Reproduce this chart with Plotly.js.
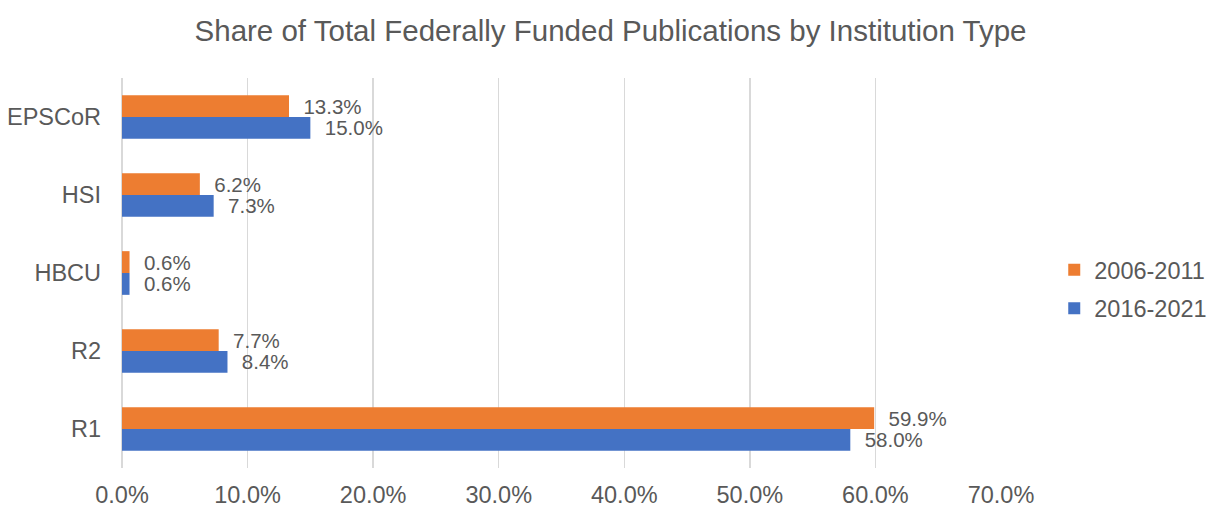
<!DOCTYPE html>
<html>
<head>
<meta charset="utf-8">
<script src="https://cdn.plot.ly/plotly-3.0.1.min.js"></script>
<style>html,body{margin:0;padding:0;background:#fff;}#chart{width:1209px;height:506px;}</style>
</head>
<body>
<div id="chart"></div>
<script>
const categories = ["R1", "R2", "HBCU", "HSI", "EPSCoR"];
const series2006 = [59.9, 7.7, 0.6, 6.2, 13.3];
const series2016 = [58.0, 8.4, 0.6, 7.3, 15.0];
const seriesNames = ["2006-2011", "2016-2021"];
const xTickValues = [0, 10, 20, 30, 40, 50, 60, 70];
const xTickLabels = xTickValues.map(v => v.toFixed(1) + '%');

const FONT = '"Liberation Sans", Arial, sans-serif';
const GREY = '#595959';

const traceBlue = {
  type: 'bar', orientation: 'h',
  name: seriesNames[1], y: categories, x: series2016,
  marker: {color: '#4472C4'},
  texttemplate: '\u00a0\u00a0%{x:.1f}%', textposition: 'outside',
  textfont: {family: FONT, size: 20.5, color: GREY},
  constraintext: 'none', cliponaxis: false,
  legendgroup: 'b', legendrank: 2, hoverinfo: 'skip'
};
const traceOrange = {
  type: 'bar', orientation: 'h',
  name: seriesNames[0], y: categories, x: series2006,
  marker: {color: '#ED7D31'},
  texttemplate: '\u00a0\u00a0%{x:.1f}%', textposition: 'outside',
  textfont: {family: FONT, size: 20.5, color: GREY},
  constraintext: 'none', cliponaxis: false,
  legendgroup: 'a', legendrank: 1, hoverinfo: 'skip'
};

const layout = {
  width: 1209, height: 506,
  paper_bgcolor: '#ffffff', plot_bgcolor: '#ffffff',
  font: {family: FONT, color: GREY, size: 23},
  title: {text: 'Share of Total Federally Funded Publications by Institution Type',
          font: {family: FONT, size: 29.5, color: GREY}, x: 0.505, xanchor: 'center', y: 0.94, yanchor: 'middle'},
  margin: {l: 122, r: 208, t: 78, b: 38},
  barmode: 'group', bargap: 0.44, bargroupgap: 0,
  showlegend: true,
  legend: {traceorder: 'grouped', xref: 'container', yref: 'container', x: 0.872, xanchor: 'left', y: 0.428, yanchor: 'middle',
           font: {family: FONT, size: 23.5, color: GREY}, tracegroupgap: 5, bgcolor: 'rgba(0,0,0,0)'},
  xaxis: {range: [0, 70], tickmode: 'array', tickvals: xTickValues, ticktext: xTickLabels,
          showgrid: true, gridcolor: '#d9d9d9', gridwidth: 1.3,
          zeroline: true, zerolinecolor: '#d9d9d9', zerolinewidth: 1.3,
          showline: false, ticks: '', ticklabelstandoff: 10, automargin: false,
          tickfont: {family: FONT, size: 23.5, color: GREY}, fixedrange: true},
  yaxis: {categoryorder: 'array', categoryarray: categories, showgrid: false, automargin: false,
          zeroline: false, showline: false, ticks: '', ticklabelstandoff: 20,
          tickfont: {family: FONT, size: 23.5, color: GREY}, fixedrange: true}
};

Plotly.newPlot('chart', [traceBlue, traceOrange], layout, {displayModeBar: false, staticPlot: true});
</script>
</body>
</html>
